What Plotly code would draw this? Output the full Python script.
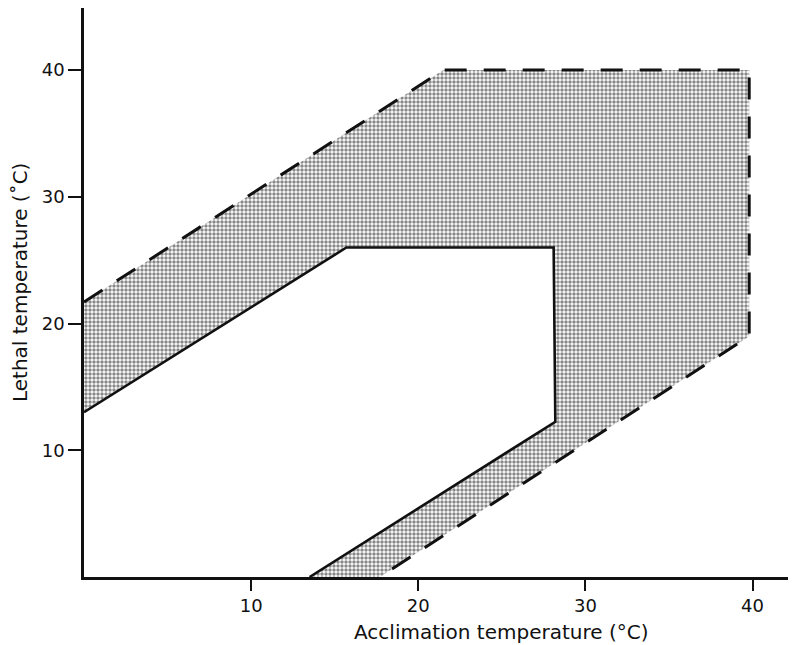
import plotly.graph_objects as go

# Outer (dashed) boundary of the stippled zone
outer_x = [0, 21.5, 39.8, 39.8, 17.7]
outer_y = [21.7, 40, 40, 19.0, 0]
# Inner (solid) boundary
inner_x = [0, 15.7, 28.1, 28.2, 13.5]
inner_y = [13.0, 26.0, 26.0, 12.25, 0]

x_ticks = [10, 20, 30, 40]
y_ticks = [10, 20, 30, 40]

FONT = "DejaVu Sans"

fig = go.Figure()

# stippled area: everything under the dashed boundary
fig.add_trace(go.Scatter(
    x=[0] + outer_x + [0], y=[0] + outer_y + [0],
    mode="none", fill="toself", fillcolor="rgba(0,0,0,0)",
    fillpattern=dict(shape=".", size=4, solidity=0.6, fgcolor="#111", bgcolor="white"),
    hoverinfo="skip", showlegend=False))
# clear area inside the solid boundary
fig.add_trace(go.Scatter(
    x=[0] + inner_x + [0], y=[0] + inner_y + [0],
    mode="none", fill="toself", fillcolor="white",
    hoverinfo="skip", showlegend=False))
# dashed line
fig.add_trace(go.Scatter(
    x=outer_x, y=outer_y, mode="lines",
    line=dict(color="#111", width=3, dash="22px,17px"),
    hoverinfo="skip", showlegend=False))
# solid line
fig.add_trace(go.Scatter(
    x=inner_x, y=inner_y, mode="lines",
    line=dict(color="#111", width=2.6),
    hoverinfo="skip", showlegend=False))

axis_common = dict(
    showgrid=False, zeroline=False, showline=True, linecolor="#111", linewidth=2.5,
    ticks="outside", tickwidth=2, tickcolor="#111",
    tickfont=dict(family=FONT, size=18, color="#111"),
)

fig.update_xaxes(range=[0, 42.6], tickvals=x_ticks, ticklen=11, **axis_common)
fig.update_yaxes(range=[0, 44.9], tickvals=y_ticks, ticklen=13, **axis_common)

# page body adds an 8px offset; plot area spans 84..796 x 8..577 in the window
PW = 796 - 84
PH = 577 - 8
fig.add_annotation(text="Acclimation temperature (°C)", xref="paper", yref="paper",
                   x=(501 - 84) / PW, y=-(632 - 577) / PH,
                   xanchor="center", yanchor="middle", showarrow=False,
                   font=dict(family=FONT, size=20, color="#111"))
fig.add_annotation(text="Lethal temperature (˚C)", xref="paper", yref="paper",
                   x=-(84 - 20) / PW, y=(577 - 283) / PH,
                   xanchor="center", yanchor="middle", showarrow=False, textangle=-90,
                   font=dict(family=FONT, size=20, color="#111"))

fig.update_layout(
    width=788, height=637,
    margin=dict(l=76, r=0, t=0, b=68),
    plot_bgcolor="white", paper_bgcolor="white",
)

fig.write_html("out.html")
